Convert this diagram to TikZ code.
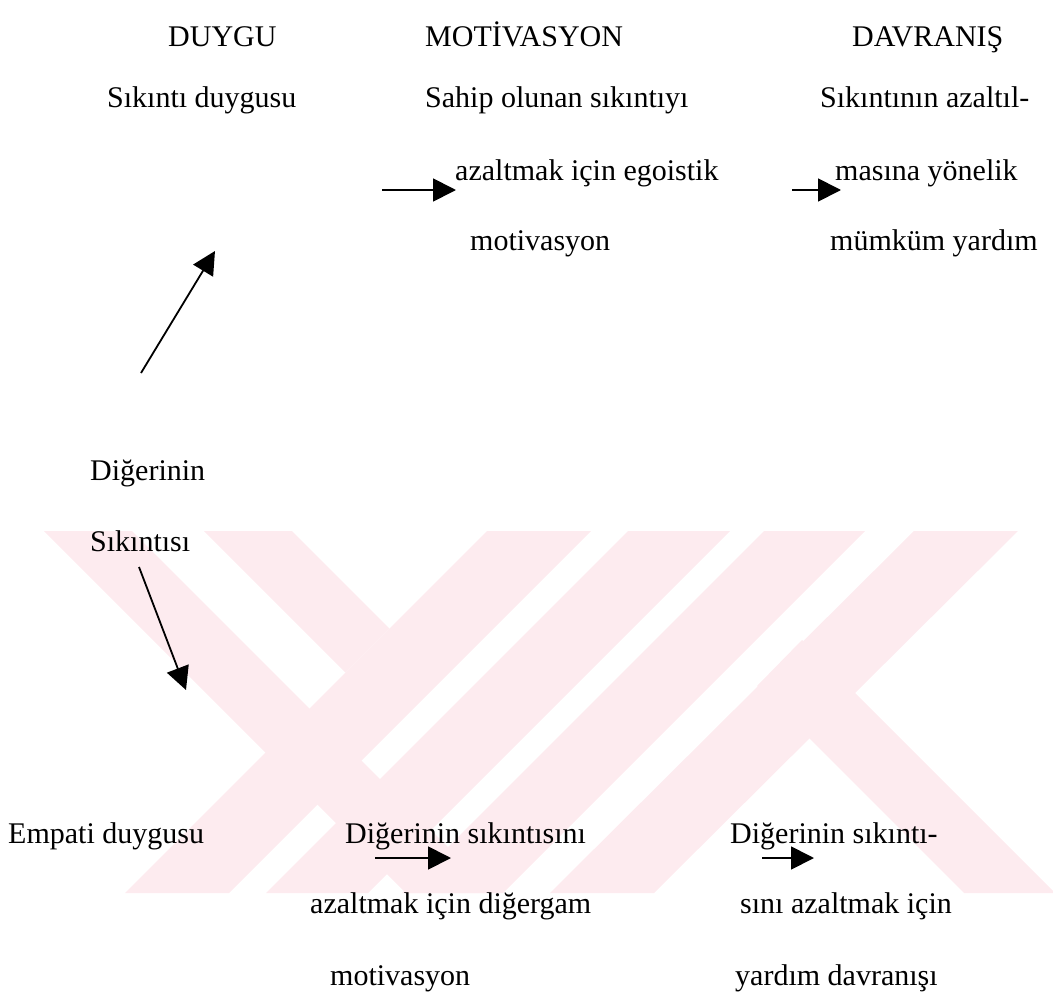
\documentclass[tikz,border=0pt]{standalone}
\usepackage{fontspec}
\setmainfont{Liberation Serif}
\usetikzlibrary{arrows.meta}
\definecolor{wmpink}{RGB}{253,235,239}

\begin{document}
\begin{tikzpicture}[x=1pt,y=-1pt,
    lbl/.style={font=\fontsize{30}{36}\selectfont,inner sep=0pt,anchor=base west},
    arr/.style={-{Triangle[length=23pt,width=23pt]},line width=1.8pt},
    band/.style={fill=wmpink}]
  \useasboundingbox (0,0) rectangle (1053,1001);
  % watermark
  \begin{scope}
    \clip (0,531) rectangle (1053,893);
    \fill[band] (35,522) -- (123,522) -- (494,893) -- (406,893) -- cycle;
    \fill[band] (195,522) -- (283,522) -- (389.5,628.5) -- (345.5,672.5) -- cycle;
    \fill[band] (496,522) -- (600,522) -- (229,893) -- (125,893) -- cycle;
    \fill[band] (637,522) -- (739,522) -- (368,893) -- (266,893) -- cycle;
    \fill[band] (773,522) -- (874,522) -- (503,893) -- (402,893) -- cycle;
    \fill[band] (923,522) -- (1027,522) -- (654,893) -- (550,893) -- cycle;
    \fill[band] (757,686) -- (802,640) -- (1055,893) -- (964,893) -- cycle;
  \end{scope}
  % column heads
  \node[lbl] (duygu) at (168,46) {DUYGU};
  \node[lbl] (motiv) at (425,46) {MOTİVASYON};
  \node[lbl] (davr) at (852,46) {DAVRANIŞ};
  % upper row
  \node[lbl] (sikd) at (107,107) {Sıkıntı duygusu};
  \node[lbl] (sahip) at (425,107) {Sahip olunan sıkıntıyı};
  \node[lbl] (azl) at (455,180) {azaltmak için egoistik};
  \node[lbl] (motA) at (470,250) {motivasyon};
  \node[lbl] (sikaz) at (820,107) {Sıkıntının azaltıl-};
  \node[lbl] (masina) at (835,180) {masına yönelik};
  \node[lbl] (mumkum) at (830,250) {mümküm yardım};
  % source
  \node[lbl] (diger) at (90,480) {Diğerinin};
  \node[lbl] (sikin) at (90,551) {Sıkıntısı};
  % lower row
  \node[lbl] (empati) at (8,843) {Empati duygusu};
  \node[lbl] (digsik) at (345,843) {Diğerinin sıkıntısını};
  \node[lbl] (azdig) at (310,913) {azaltmak için diğergam};
  \node[lbl] (motB) at (330,985) {motivasyon};
  \node[lbl] (digsk2) at (730,843) {Diğerinin sıkıntı-};
  \node[lbl] (sini) at (740,913) {sını azaltmak için};
  \node[lbl] (yardim) at (735,985) {yardım davranışı};
  % arrows
  \coordinate (upS) at (141,373);
  \coordinate (upE) at (215,251);
  \coordinate (dnS) at (139,567);
  \coordinate (dnE) at (186,690);
  \coordinate (e1S) at (382,190);
  \coordinate (e1E) at (456,190);
  \coordinate (e2S) at (792,190);
  \coordinate (e2E) at (841,190);
  \coordinate (a1S) at (375,858);
  \coordinate (a1E) at (451,858);
  \coordinate (a2S) at (762,858);
  \coordinate (a2E) at (814,858);
  \draw[arr] (upS) -- (upE);
  \draw[arr] (dnS) -- (dnE);
  \draw[arr] (e1S) -- (e1E);
  \draw[arr] (e2S) -- (e2E);
  \draw[arr] (a1S) -- (a1E);
  \draw[arr] (a2S) -- (a2E);
\end{tikzpicture}
\end{document}
